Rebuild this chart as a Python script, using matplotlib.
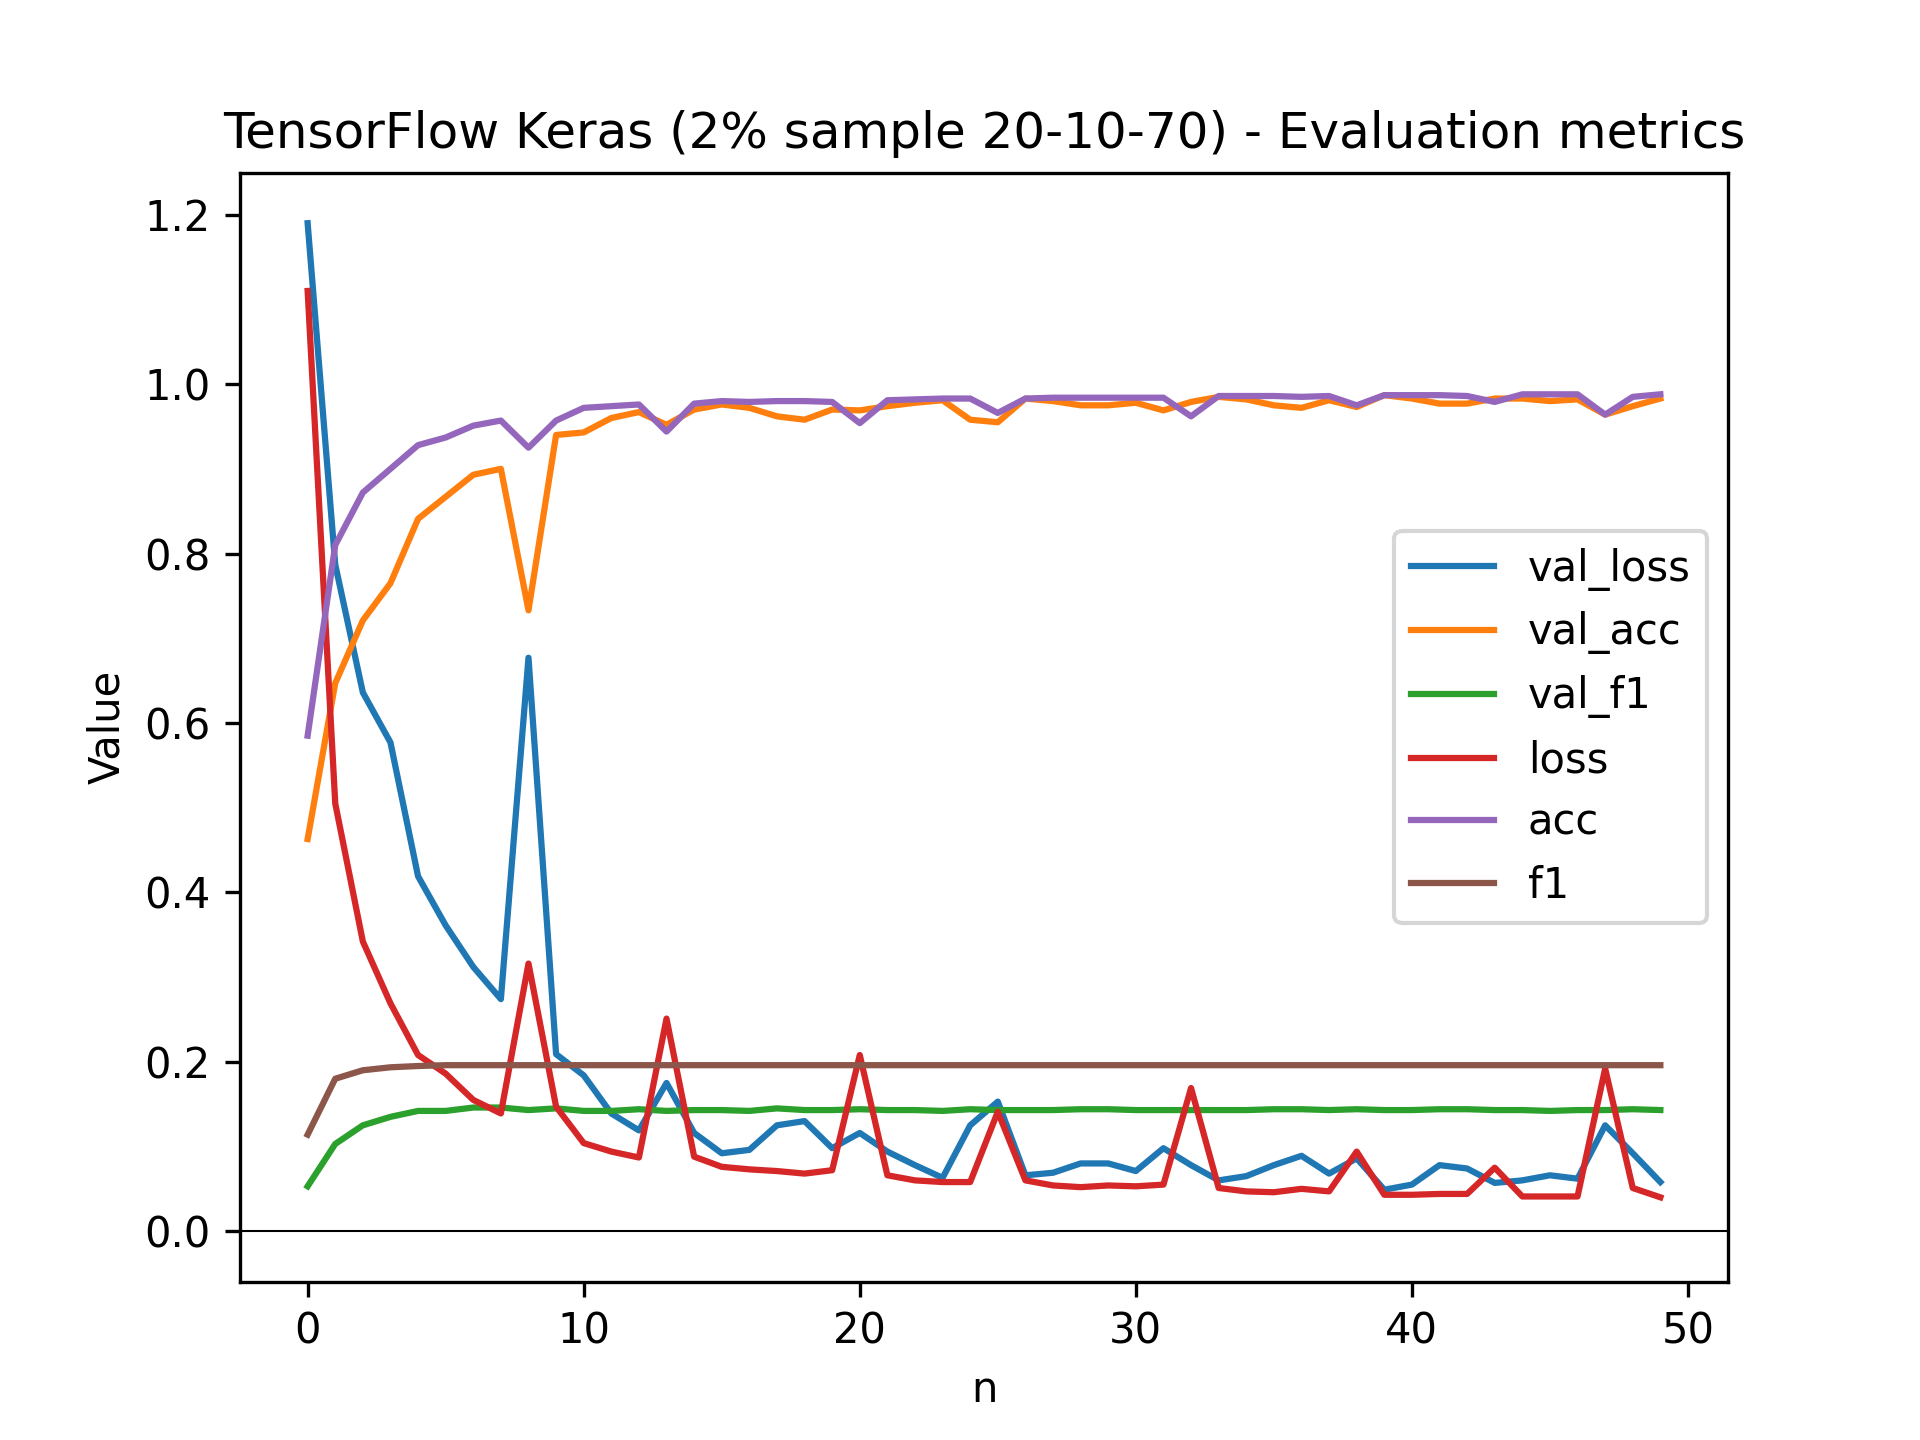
import matplotlib
matplotlib.use("Agg")
import matplotlib.pyplot as plt

# epochs 0..49
n = list(range(50))

val_loss = [1.19, 0.787, 0.636, 0.577, 0.419, 0.361, 0.312, 0.274, 0.677, 0.209,
            0.184, 0.139, 0.119, 0.175, 0.116, 0.092, 0.096, 0.125, 0.130, 0.098,
            0.116, 0.094, 0.078, 0.063, 0.125, 0.153, 0.066, 0.069, 0.080, 0.080,
            0.071, 0.098, 0.078, 0.060, 0.065, 0.078, 0.089, 0.068, 0.086, 0.049,
            0.055, 0.078, 0.074, 0.057, 0.060, 0.066, 0.062, 0.125, 0.092, 0.058]

val_acc = [0.463, 0.647, 0.721, 0.765, 0.841, 0.867, 0.893, 0.900, 0.733, 0.940,
           0.943, 0.960, 0.967, 0.952, 0.970, 0.976, 0.972, 0.962, 0.958, 0.970,
           0.969, 0.974, 0.978, 0.981, 0.958, 0.955, 0.983, 0.980, 0.975, 0.975,
           0.978, 0.969, 0.979, 0.985, 0.982, 0.975, 0.972, 0.981, 0.973, 0.987,
           0.983, 0.977, 0.977, 0.983, 0.983, 0.980, 0.982, 0.964, 0.974, 0.983]

val_f1 = [0.053, 0.103, 0.125, 0.135, 0.142, 0.142, 0.146, 0.146, 0.143, 0.145,
          0.142, 0.142, 0.144, 0.142, 0.143, 0.143, 0.142, 0.145, 0.143, 0.143,
          0.144, 0.143, 0.143, 0.142, 0.144, 0.143, 0.143, 0.143, 0.144, 0.144,
          0.143, 0.143, 0.143, 0.143, 0.143, 0.144, 0.144, 0.143, 0.144, 0.143,
          0.143, 0.144, 0.144, 0.143, 0.143, 0.142, 0.143, 0.143, 0.144, 0.143]

loss = [1.11, 0.505, 0.342, 0.269, 0.208, 0.186, 0.155, 0.139, 0.316, 0.147,
        0.104, 0.094, 0.087, 0.251, 0.088, 0.076, 0.073, 0.071, 0.068, 0.072,
        0.208, 0.066, 0.060, 0.058, 0.058, 0.141, 0.060, 0.054, 0.052, 0.054,
        0.053, 0.055, 0.169, 0.051, 0.047, 0.046, 0.050, 0.047, 0.094, 0.043,
        0.043, 0.044, 0.044, 0.075, 0.041, 0.041, 0.041, 0.192, 0.051, 0.040]

acc = [0.585, 0.810, 0.872, 0.900, 0.928, 0.937, 0.951, 0.957, 0.925, 0.957,
       0.972, 0.974, 0.976, 0.944, 0.977, 0.980, 0.979, 0.980, 0.980, 0.979,
       0.954, 0.981, 0.982, 0.983, 0.983, 0.966, 0.983, 0.984, 0.984, 0.984,
       0.984, 0.984, 0.962, 0.986, 0.986, 0.986, 0.985, 0.986, 0.975, 0.987,
       0.987, 0.987, 0.986, 0.979, 0.988, 0.988, 0.988, 0.964, 0.985, 0.988]

f1 = [0.114, 0.180, 0.190, 0.1935, 0.195] + [0.196] * 45

series = [
    ("val_loss", val_loss),
    ("val_acc", val_acc),
    ("val_f1", val_f1),
    ("loss", loss),
    ("acc", acc),
    ("f1", f1),
]

fig, ax = plt.subplots(figsize=(6.4, 4.8), dpi=300)

for label, values in series:
    ax.plot(n, values, label=label)

ax.axhline(0, color="black", linewidth=0.5)

# zero line counts as data for the y range (5% margins around 0..max)
ymax = max(max(v) for _, v in series)
pad = 0.05 * ymax
ax.set_ylim(-pad, ymax + pad)

ax.set_title("TensorFlow Keras (2% sample 20-10-70) - Evaluation metrics")
ax.set_xlabel("n")
ax.set_ylabel("Value")
ax.legend(loc="center right")

fig.savefig("out.png", dpi=300)
plt.close(fig)
